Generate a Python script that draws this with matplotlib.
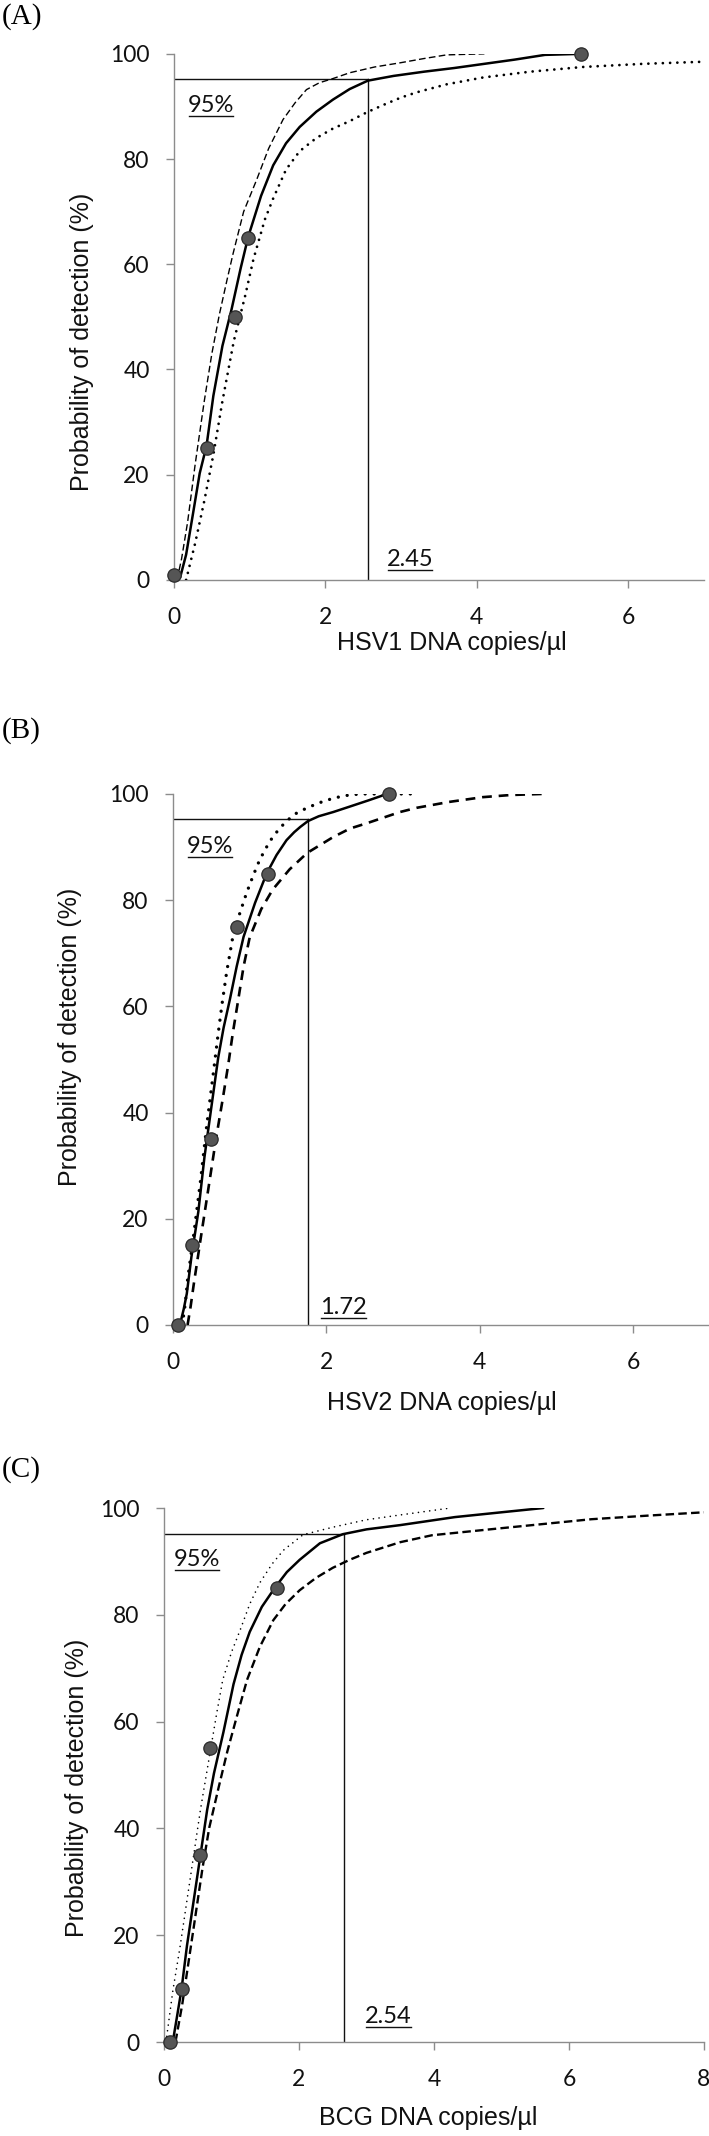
import matplotlib
matplotlib.use("Agg")
import matplotlib.pyplot as plt
from matplotlib.lines import Line2D

plt.rcParams['font.family'] = ['Lato', 'DejaVu Sans']

# ---------------- data ----------------
# (A) HSV1
a_pts_x = [0.0, 0.43, 0.80, 0.98, 5.38]
a_pts_y = [1, 25, 50, 65, 100]
a_fit_x = [0.08, 0.16, 0.25, 0.34, 0.43, 0.52, 0.64, 0.76, 0.88, 0.98, 1.15, 1.31, 1.48, 1.66,
           1.88, 2.1, 2.32, 2.56, 2.9, 3.3, 3.7, 4.1, 4.5, 4.9, 5.38]
a_fit_y = [0.4, 4.8, 12.5, 20.3, 25.5, 35, 44.5, 51.4, 59.2, 65.2, 73, 78.8, 83, 86.1,
           89, 91.3, 93.3, 94.9, 95.8, 96.6, 97.3, 98.1, 98.9, 99.8, 100]
a_dash_x = [0.04, 0.1, 0.18, 0.28, 0.4, 0.5, 0.6, 0.7, 0.78, 0.92, 1.09, 1.25, 1.44, 1.6, 1.75,
            1.92, 2.1, 2.32, 2.65, 2.99, 3.3, 3.6, 4.1]
a_dash_y = [0, 4, 11, 22, 34, 43, 50.5, 57, 62, 70, 76, 82, 87.5, 90.7, 93.2,
            94.5, 95.3, 96.4, 97.5, 98.3, 99.1, 99.8, 100]
a_dot_x = [0.16, 0.28, 0.4, 0.52, 0.64, 0.79, 0.94, 1.05, 1.2, 1.31, 1.48, 1.66, 1.88, 2.1,
           2.32, 2.55, 2.8, 3.0, 3.21, 3.6, 4.08, 4.7, 5.4, 6.2, 7.0]
a_dot_y = [0, 7, 15, 23.8, 34, 45.4, 54, 61, 68.5, 72.5, 78, 81.5, 84, 85.8,
           87.2, 88.9, 90.5, 91.7, 92.7, 94.2, 95.5, 96.6, 97.5, 98.1, 98.5]
a_lod = 2.56
a_lod_text = "2.45"

# (B) HSV2
b_pts_x = [0.06, 0.25, 0.49, 0.83, 1.24, 2.82]
b_pts_y = [0, 15, 35, 75, 85, 100]
b_fit_x = [0.09, 0.14, 0.18, 0.24, 0.33, 0.41, 0.5, 0.59, 0.66, 0.74, 0.83, 0.92, 1.07, 1.22,
           1.35, 1.48, 1.58, 1.66, 1.76, 1.9, 2.09, 2.3, 2.55, 2.79]
b_fit_y = [0, 3, 5.9, 12.8, 21.3, 31.6, 41, 50.4, 56, 61.2, 67.5, 73.1, 79.5, 85,
           88.5, 91.3, 92.8, 93.8, 94.9, 95.8, 96.6, 97.6, 98.8, 100]
b_dash_x = [0.19, 0.23, 0.27, 0.36, 0.47, 0.56, 0.65, 0.72, 0.78, 0.85, 0.92, 1.0, 1.15, 1.3,
            1.52, 1.75, 2.09, 2.31, 2.53, 2.96, 3.18, 3.6, 4.04, 4.4, 4.81]
b_dash_y = [0, 3.5, 7.6, 16.2, 26.5, 35, 42.7, 49, 55, 61.2, 67.5, 73, 78.3, 82,
            85.8, 88.9, 91.9, 93.5, 94.5, 96.6, 97.4, 98.5, 99.4, 99.8, 100]
b_dot_x = [0.12, 0.16, 0.19, 0.27, 0.36, 0.44, 0.53, 0.59, 0.64, 0.7, 0.78, 0.87, 0.96, 1.05,
           1.13, 1.22, 1.3, 1.39, 1.48, 1.6, 1.75, 1.92, 2.09, 2.25, 2.44, 2.8, 3.2]
b_dot_y = [0, 4, 8.5, 17, 27.3, 37.6, 47.9, 55, 60.5, 66.5, 73.1, 77.5, 81.4, 84.8,
           87.6, 90, 91.9, 93.5, 94.9, 96.3, 97.4, 98.4, 99.2, 99.7, 100, 100, 100]
b_lod = 1.76
b_lod_text = "1.72"

# (C) BCG
c_pts_x = [0.09, 0.26, 0.54, 0.68, 1.68]
c_pts_y = [0, 10, 35, 55, 85]
c_fit_x = [0.13, 0.2, 0.26, 0.34, 0.44, 0.54, 0.64, 0.74, 0.88, 1.03, 1.15, 1.27, 1.45, 1.65,
           1.82, 2.01, 2.31, 2.65, 3.0, 3.5, 4.31, 5.0, 5.62]
c_fit_y = [0, 5.3, 9.9, 18, 26.5, 35, 43.5, 50.3, 58, 67, 72.5, 76.8, 81.5, 85.2,
           88, 90.3, 93.4, 95.1, 96, 96.8, 98.3, 99.2, 100]
c_dash_x = [0.17, 0.27, 0.37, 0.47, 0.57, 0.67, 0.81, 0.94, 1.08, 1.23, 1.42, 1.62, 1.8, 2.01,
            2.25, 2.5, 2.75, 3.0, 3.5, 3.97, 4.98, 6.33, 7.2, 8.0]
c_dash_y = [0, 7, 15.5, 24, 32.5, 40.1, 47.7, 54.5, 61, 67.8, 74, 79, 82, 84.6,
            86.9, 88.8, 90.3, 91.6, 93.6, 94.9, 96.2, 97.9, 98.6, 99.2]
c_dot_x = [0.03, 0.13, 0.24, 0.34, 0.44, 0.54, 0.64, 0.7, 0.78, 0.87, 1.0, 1.13, 1.27, 1.42,
           1.6, 1.77, 2.06, 2.5, 3.0, 3.5, 4.24]
c_dot_y = [0, 9.5, 18, 26.5, 35, 43.5, 51, 55.5, 61.5, 67.8, 73, 77.2, 82, 86,
           89.5, 92.1, 95, 96.4, 97.8, 98.7, 100]
c_lod = 2.66
c_lod_text = "2.54"

y_ticks = [0, 20, 40, 60, 80, 100]

fig = plt.figure(figsize=(7.09, 21.36), dpi=100)

underlines = []


def panel(rect, letter, letter_y, xmax, xlabel, pts, fit, dash, dot, dash_style, dot_style,
          lod, lod_text, t95, tlod, xlab_pos, ylab_pos):
    ax = fig.add_axes(rect)
    ax.plot(fit[0], fit[1], color='black', lw=1.8, solid_capstyle='round',
            solid_joinstyle='round', zorder=3)
    ax.plot(dash[0], dash[1], color='black', lw=dash_style[0], linestyle=(0, dash_style[1]), zorder=3)
    ax.plot(dot[0], dot[1], color='black', lw=dot_style[0], linestyle=(0, dot_style[1]),
            dash_capstyle='round', zorder=3)
    ax.scatter(pts[0], pts[1], s=92, color='#555555', edgecolor='#2a2a2a', linewidth=0.9,
               zorder=5, clip_on=False)
    # 95 % reference lines
    ax.plot([0, lod], [95.2, 95.2], color='#111111', lw=1.0, zorder=2)
    ax.plot([lod, lod], [0, 95.2], color='#111111', lw=1.0, zorder=2)

    for (tx, ty), s in [(t95, "95%"), (tlod, lod_text)]:
        t = ax.text(tx, ty, s, fontsize=17, va='baseline', ha='left', color='#111111')
        underlines.append((ax, t, tx, ty))

    ax.set_xlim(0, xmax)
    ax.set_ylim(0, 100)
    ax.set_yticks(y_ticks)
    ax.set_xticks(range(0, xmax + 1, 2))
    for sp in ['top', 'right']:
        ax.spines[sp].set_visible(False)
    for sp in ['left', 'bottom']:
        ax.spines[sp].set_color('#8c8c8c')
        ax.spines[sp].set_linewidth(1.0)
    ax.tick_params(axis='both', direction='out', length=5.5, width=1.0, color='#8c8c8c',
                   labelsize=16.5, labelcolor='#111111')
    ax.tick_params(axis='y', pad=12)
    ax.tick_params(axis='x', pad=14)

    ax.text(xlab_pos[0], xlab_pos[1], xlabel, transform=ax.transAxes, ha='center', va='center',
            fontsize=18, family='Liberation Sans', color='#111111')
    ax.text(ylab_pos[0], ylab_pos[1], "Probability of detection (%)", transform=ax.transAxes,
            ha='center', va='center', rotation=90, fontsize=18, family='Liberation Sans',
            color='#111111')
    fig.text(0.002, letter_y, letter, fontsize=21, family='Liberation Serif', va='top', ha='left')
    return ax


panel([0.2454, 0.7285, 0.7475, 0.2463], "(A)", 0.9985, 7, "HSV1 DNA copies/µl",
      (a_pts_x, a_pts_y), (a_fit_x, a_fit_y), (a_dash_x, a_dash_y), (a_dot_x, a_dot_y),
      (1.0, (4.8, 2.4)), (2.0, (0.01, 2.6)), a_lod, a_lod_text,
      (0.185, 89.0), (2.81, 2.66), (0.524, -0.12), (-0.173, 0.452))

panel([0.2440, 0.3797, 0.7574, 0.2486], "(B)", 0.6645, 7, "HSV2 DNA copies/µl",
      (b_pts_x, b_pts_y), (b_fit_x, b_fit_y), (b_dash_x, b_dash_y), (b_dot_x, b_dot_y),
      (1.9, (3.7, 2.6)), (2.4, (0.01, 2.7)), b_lod, b_lod_text,
      (0.18, 88.9), (1.92, 2.0), (0.5, -0.147), (-0.192, 0.542))

panel([0.2313, 0.0440, 0.7616, 0.2500], "(C)", 0.3185, 8, "BCG DNA copies/µl",
      (c_pts_x, c_pts_y), (c_fit_x, c_fit_y), (c_dash_x, c_dash_y), (c_dot_x, c_dot_y),
      (1.7, (3.6, 1.8)), (1.2, (0.01, 3.4)), c_lod, c_lod_text,
      (0.15, 89.1), (2.98, 3.6), (0.49, -0.142), (-0.161, 0.476))

# underline the annotation texts
fig.canvas.draw()
renderer = fig.canvas.get_renderer()
for ax, t, tx, ty in underlines:
    bb = t.get_window_extent(renderer)
    yb = ax.transData.transform((tx, ty))[1] - 4
    fig.add_artist(Line2D([bb.x0 + 1, bb.x1 - 1], [yb, yb], transform=None,
                          color='#111111', lw=1.0))

plt.savefig("out.png", dpi=100)
